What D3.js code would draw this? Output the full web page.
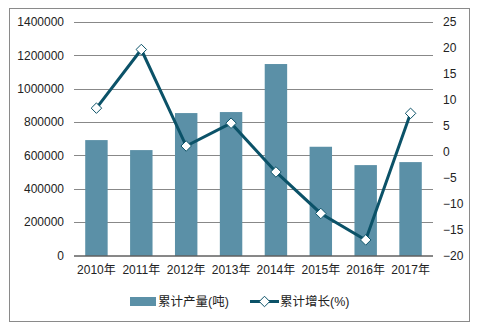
<!DOCTYPE html>
<html><head><meta charset="utf-8">
<script src="https://cdn.jsdelivr.net/npm/d3@7/dist/d3.min.js"></script>
<style>
body{margin:0;background:#fff;}
text{font-family:"Liberation Sans",Arial,"Noto Sans CJK SC",sans-serif;font-size:12px;fill:#222;}
</style></head><body>
<svg id="c" width="477" height="327"></svg>
<script>
const categories = ["2010年","2011年","2012年","2013年","2014年","2015年","2016年","2017年"];
const production = [692000, 632000, 854000, 860000, 1148000, 652000, 542000, 560000];
const growth = [8.4, 19.7, 1.1, 5.5, -3.9, -11.9, -17.0, 7.4];
const leftTicks = [0,200000,400000,600000,800000,1000000,1200000,1400000];
const rightTicks = [-20,-15,-10,-5,0,5,10,15,20,25];
const seriesNames = ["累计产量(吨)","累计增长(%)"];

const svg = d3.select("#c");
const L=74, R=433, T=22, B=255.5;
const barColor="#5b90a7", lineColor="#0b5268";

svg.append("rect").attr("x",9.5).attr("y",8.5).attr("width",460).attr("height",313)
  .attr("fill","none").attr("stroke","#8a8a8a");

const x = d3.scaleBand().domain(categories).range([L,R]).paddingInner(0.5).paddingOuter(0.25);
const yL = d3.scaleLinear().domain([0,1400000]).range([B,T]);
const yR = d3.scaleLinear().domain([-20,25]).range([B,T]);

// gridlines
svg.append("g").selectAll("line").data(leftTicks.filter(d=>d>0)).join("line")
  .attr("x1",L).attr("x2",R).attr("y1",d=>Math.round(yL(d))+0.5).attr("y2",d=>Math.round(yL(d))+0.5)
  .attr("stroke","#888").attr("stroke-width",1);

// left axis
const gl = svg.append("g").attr("transform",`translate(${L},0)`)
  .call(d3.axisLeft(yL).tickValues(leftTicks).tickSize(0).tickPadding(10).tickFormat(d3.format("d")));
gl.select(".domain").remove();
gl.selectAll("text").style("font-size","12px").attr("fill","#222");

// right axis
const gr = svg.append("g").attr("transform",`translate(${R},0)`)
  .call(d3.axisRight(yR).tickValues(rightTicks).tickSize(0).tickPadding(10));
gr.select(".domain").remove();
gr.selectAll("text").style("font-size","12px").attr("fill","#222");

// bars
svg.append("g").selectAll("rect").data(production).join("rect")
  .attr("x",(d,i)=>x(categories[i])).attr("width",x.bandwidth())
  .attr("y",d=>yL(d)).attr("height",d=>B-yL(d)).attr("fill",barColor);

// bottom axis
const gb = svg.append("g").attr("transform",`translate(0,${B})`)
  .call(d3.axisBottom(x).tickSize(0).tickPadding(10));
gb.select(".domain").attr("stroke","#111").attr("d",`M${L},0.5H${R}`);
gb.selectAll("text").style("font-size","12px").attr("fill","#222");

// line
const cx = (i)=>x(categories[i])+x.bandwidth()/2;
const line = d3.line().x((d,i)=>cx(i)).y(d=>yR(d));
svg.append("path").datum(growth).attr("d",line).attr("fill","none")
  .attr("stroke",lineColor).attr("stroke-width",3);
const diamond = d3.symbol().type(d3.symbolDiamond2).size(70);
svg.append("g").selectAll("path").data(growth).join("path")
  .attr("d",diamond).attr("transform",(d,i)=>`translate(${cx(i)},${yR(d)})`)
  .attr("fill","#fff").attr("stroke",lineColor).attr("stroke-width",1);

// legend
const lg = svg.append("g");
lg.append("rect").attr("x",130).attr("y",297).attr("width",26).attr("height",9).attr("fill",barColor);
lg.append("text").attr("x",158).attr("y",306).text(seriesNames[0]).style("font-size","12.5px");
lg.append("line").attr("x1",250).attr("x2",279).attr("y1",301.5).attr("y2",301.5).attr("stroke",lineColor).attr("stroke-width",3);
lg.append("path").attr("d",diamond).attr("transform","translate(264.5,301.5)").attr("fill","#fff").attr("stroke",lineColor);
lg.append("text").attr("x",280).attr("y",306).text(seriesNames[1]).style("font-size","12.5px");
</script></body></html>
